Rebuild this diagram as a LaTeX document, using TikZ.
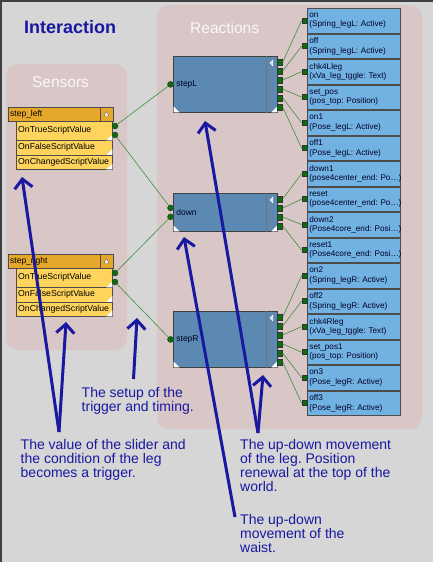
\documentclass[tikz,border=0pt]{standalone}
\usepackage{fontspec}
\setmainfont{Liberation Sans}
\frenchspacing
\usetikzlibrary{arrows.meta,positioning}
\definecolor{bggray}{HTML}{D6D6D6}
\definecolor{panelpink}{HTML}{D9C6C6}
\definecolor{navy}{HTML}{1818A0}
\definecolor{senshead}{HTML}{E5A82A}
\definecolor{sensrow}{HTML}{FFD45C}
\definecolor{ctrlblue}{HTML}{5B89B2}
\definecolor{actblue}{HTML}{72B2E2}
\definecolor{portgreen}{HTML}{0B6E0B}
\definecolor{wiregreen}{HTML}{3F903F}

\begin{document}
\begin{tikzpicture}[x=1pt, y=-1pt, >={Straight Barb[length=9pt,width=18pt]},
  panel/.style={fill=panelpink, rounded corners=12pt},
  ptitle/.style={text=white!90!panelpink, font=\fontsize{15.5}{18}\selectfont, inner sep=0},
  note/.style={text=navy, font=\fontsize{14}{14.2}\selectfont, align=left, anchor=north west, inner sep=0},
  callout/.style={->, navy, line width=3pt},
  shead/.style={fill=senshead, draw=black!70, anchor=north west, minimum width=105, minimum height=14,
    inner sep=2pt, text width=101, align=left, font=\fontsize{8.5}{10}\selectfont},
  sbtn/.style={fill=senshead, draw=black!70, anchor=north east, minimum width=13, minimum height=14, inner sep=0},
  srow/.style={fill=sensrow, draw=black!70, anchor=north west, minimum width=96, inner sep=2pt,
    text width=92, align=left, font=\fontsize{8.7}{10}\selectfont},
  sdot/.style={circle, fill=portgreen, draw=black!80, line width=0.4pt, minimum size=6, inner sep=0},
  ctrl/.style={fill=ctrlblue, draw=black!75, line width=0.8pt, anchor=north west, minimum width=104,
    inner sep=3pt, text width=98, align=left, text=black!85!blue, font=\fontsize{8.5}{10}\selectfont},
  cport/.style={fill=portgreen, draw=black!80, line width=0.4pt, minimum width=5, minimum height=6, inner sep=0},
  act/.style={fill=actblue, draw=black!70, line width=0.8pt, anchor=north west, minimum width=93,
    minimum height=24.5, inner sep=2pt, text width=89, align=left, text=black!85!blue,
    font=\fontsize{8.2}{9.5}\selectfont},
  aport/.style={fill=portgreen, draw=black!80, line width=0.4pt, minimum size=5, inner sep=0},
  wire/.style={wiregreen, line width=0.6pt}]
  \useasboundingbox (0,0) rectangle (433,562);
  \fill[bggray] (0,0) rectangle (433,562);
  \draw[black!75, line width=1.5pt] (0.75,562) -- (0.75,0.75) -- (433,0.75);

  \node[text=navy, font=\fontsize{18}{20}\selectfont\bfseries, anchor=base west, inner sep=0] (title) at (24,33) {Interaction};

  \fill[panel] (6,64) rectangle (127,350);
  \fill[panel] (157,5) rectangle (422,429);
  \node[ptitle, anchor=base] (sensT) at (60.5,87) {Sensors};
  \node[ptitle, anchor=base west] (reacT) at (190,33) {Reactions};

  \foreach \s/\t/\y in {SL/step\_left/107, SR/step\_right/254} {
    \node[shead] (\s head) at (8,\y) {\t};
    \node[sbtn] (\s btn) at (113,\y) {};
    \filldraw[fill=white, draw=black!60, line width=0.4pt] (106.5,\y+4.5) -- (104,\y+9) -- (109,\y+9) -- cycle;
    \node[srow, minimum height=19] (\s r1) at (16,\y+14) {OnTrueScriptValue};
    \node[srow, minimum height=14.5] (\s r2) at (16,\y+33) {OnFalseScriptValue};
    \node[srow, minimum height=14.5] (\s r3) at (16,\y+47.5) {OnChangedScriptValue};
    \foreach \r in {1,2,3}
      \fill[white] (\s r\r.south east) -- ++(-6,0) -- ++(6,-6) -- cycle;
    \node[sdot] (\s d1) at (115,\y+19) {};
    \node[sdot] (\s d2) at (115,\y+28) {};
  }

  \foreach \c/\t/\y/\h/\n in {L/stepL/56/56/6, D/down/193/38/4, R/stepR/311/56/6} {
    \node[ctrl, minimum height=\h] (c\c) at (173,\y) {\t};
    \draw[black!55, line width=0.8pt] ([xshift=-11]c\c.north east) -- ([xshift=-11]c\c.south east);
    \filldraw[fill=white!70!ctrlblue, draw=white, line width=0.4pt]
      ([shift={(-5,4)}]c\c.north east) -- ([shift={(-5,10)}]c\c.north east) -- ([shift={(-8,7)}]c\c.north east) -- cycle;
    \fill[white] ([shift={(0.5,-0.5)}]c\c.south west) -- ++(6,0) -- ++(-6,-6) -- cycle;
    \fill[white] ([shift={(-0.5,-0.5)}]c\c.south east) -- ++(-6,0) -- ++(6,-6) -- cycle;
    \foreach \k in {1,...,\n}
      \node[cport] (c\c p\k) at (280,\y-3+9*\k) {};
  }
  \node[sdot] (cLin) at ([xshift=-2.5]cL.west) {};
  \node[sdot] (cDin1) at ([shift={(-2.5,-4.5)}]cD.west) {};
  \node[sdot] (cDin2) at ([shift={(-2.5,4.5)}]cD.west) {};
  \node[sdot] (cRin) at ([xshift=-2.5]cR.west) {};

  \foreach \a/\b [count=\i from 0] in {on/(Spring\_legL: Active), off/(Spring\_legL: Active),
      chk4Lleg/(xVa\_leg\_tggle: Text), set\_pos/(pos\_top: Position), on1/(Pose\_legL: Active),
      off1/(Pose\_legL: Active), down1/(pose4center\_end: Po\ldots), reset/(pose4center\_end: Po\ldots),
      down2/(Pose4core\_end: Posi\ldots), reset1/(Pose4core\_end: Posi\ldots), on2/(Spring\_legR: Active),
      off2/(Spring\_legR: Active), chk4Rleg/(xVa\_leg\_tggle: Text), set\_pos1/(pos\_top: Position),
      on3/(Pose\_legR: Active), off3/(Pose\_legR: Active)} {
    \node[act] (a\i) at (307,{8+25.5*\i}) {\a\\\makebox[89pt][l]{\b}};
    \node[aport, anchor=east] (ap\i) at (a\i.west) {};
  }

  \foreach \c/\n/\base in {L/6/0, D/4/6, R/6/10}
    \foreach \k [count=\m from \base] in {1,...,\n}
      \draw[wire] (c\c p\k.east) -- (ap\m.west);
  \draw[wire] (SLd1) -- (cLin);
  \draw[wire] (SLd2) -- (cDin1);
  \draw[wire] (SRd1) -- (cDin2);
  \draw[wire] (SRd2) -- (cRin);

  \node[note] (noteSetup) at (81.5,387) {The setup of the\\trigger and timing.};
  \node[note] (noteSlider) at (20.5,439) {The value of the slider and\\the condition of the leg\\becomes a trigger.};
  \node[note] (noteLeg) at (240,439) {The up-down movement\\of the leg. Position\\renewal at the top of the\\world.};
  \node[note] (noteWaist) at (240,514) {The up-down\\movement of the\\waist.};

  \coordinate (sliderTail) at (59,432);
  \coordinate (setupTail) at (133.5,379);
  \coordinate (legTail) at (258,433);
  \coordinate (waistTail) at (235,517);
  \coordinate (tipSL) at (22,177);
  \coordinate (tipSR) at (66,322);
  \coordinate (tipGap) at (137,318);
  \coordinate (tipDown) at (184,237);
  \coordinate (tipStepL) at (205,121);
  \coordinate (tipStepR) at (263,375);
  \draw[callout] (sliderTail) -- (tipSL);
  \draw[callout] (sliderTail) -- (tipSR);
  \draw[callout] (setupTail) -- (tipGap);
  \draw[callout] (waistTail) -- (tipDown);
  \draw[callout] (legTail) -- (tipStepL);
  \draw[callout] (legTail) -- (tipStepR);
\end{tikzpicture}
\end{document}
